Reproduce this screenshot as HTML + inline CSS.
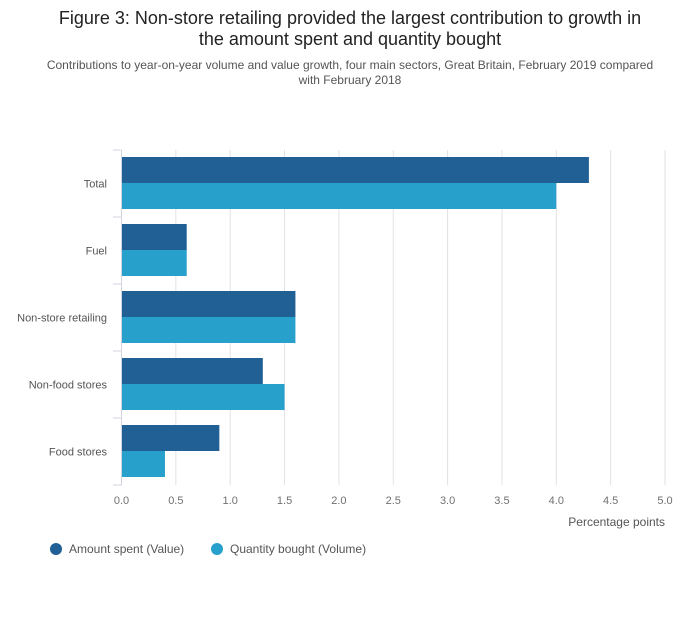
<!DOCTYPE html>
<html><head><meta charset="utf-8"><style>
body{margin:0;background:#fff;font-family:"Liberation Sans",sans-serif;}
</style></head><body>
<svg width="700" height="635" xmlns="http://www.w3.org/2000/svg" font-family="Liberation Sans, sans-serif">
<text x="350" y="24" text-anchor="middle" font-size="18" fill="#222">Figure 3: Non-store retailing provided the largest contribution to growth in</text>
<text x="350" y="45" text-anchor="middle" font-size="18" fill="#222">the amount spent and quantity bought</text>
<text x="350" y="69" text-anchor="middle" font-size="12" fill="#555">Contributions to year-on-year volume and value growth, four main sectors, Great Britain, February 2019 compared</text>
<text x="350" y="84" text-anchor="middle" font-size="12" fill="#555">with February 2018</text>
<g id="grid"></g><g id="bars"></g><g id="axes"></g>
<text x="665" y="526" text-anchor="end" font-size="12" fill="#555">Percentage points</text>
<g>
<circle cx="56" cy="549" r="6" fill="#206095"/>
<text x="69" y="553" font-size="12" fill="#555">Amount spent (Value)</text>
<circle cx="217" cy="549" r="6" fill="#27a0cc"/>
<text x="230" y="553" font-size="12" fill="#555">Quantity bought (Volume)</text>
</g>
</svg>
<script>
const categories=["Total","Fuel","Non-store retailing","Non-food stores","Food stores"];
const valueSeries=[4.3,0.6,1.6,1.3,0.9];
const volumeSeries=[4.0,0.6,1.6,1.5,0.4];
const xTicks=[0,0.5,1,1.5,2,2.5,3,3.5,4,4.5,5];
const SVGNS="http://www.w3.org/2000/svg";
const plotL=121.5,plotR=665,plotT=150,plotB=485;
function xs(v){return plotL+(v/5)*(plotR-plotL);}
const bandH=(plotB-plotT)/categories.length;
function mk(t,a,p){const e=document.createElementNS(SVGNS,t);for(const k in a)e.setAttribute(k,a[k]);p.appendChild(e);return e;}
const gridG=document.getElementById('grid'),barsG=document.getElementById('bars'),axesG=document.getElementById('axes');
xTicks.forEach(t=>{
 if(t>0){const l=mk('line',{x1:xs(t),x2:xs(t),y1:plotT,y2:plotB,stroke:'#e2e2e3','stroke-width':1},gridG);
 
 }
 const tx=mk('text',{x:xs(t),y:504,'text-anchor':'middle','font-size':11,fill:'#707070'},axesG);
 tx.textContent=t.toFixed(1);
 
 
});
const ax=mk('line',{x1:plotL,x2:plotL,y1:plotT,y2:plotB,stroke:'#d0d5df','stroke-width':1},axesG);


for(let i=0;i<=categories.length;i++){
 const y=plotT+i*bandH;
 const tk=mk('line',{x1:113,x2:plotL,y1:y,y2:y,stroke:'#d0d5df','stroke-width':1},axesG);
 
 
}
categories.forEach((c,i)=>{
 const y=plotT+i*bandH;
 const lb=mk('text',{x:107,y:y+bandH/2+4,'text-anchor':'end','font-size':11,fill:'#555'},axesG);
 lb.textContent=c;
 
 
 const b1=mk('rect',{x:plotL,y:y+7,width:xs(valueSeries[i])-plotL,height:26,fill:'#206095'},barsG);
 
 
 const b2=mk('rect',{x:plotL,y:y+33,width:xs(volumeSeries[i])-plotL,height:26,fill:'#27a0cc'},barsG);
 
 
});
</script>
</body></html>
